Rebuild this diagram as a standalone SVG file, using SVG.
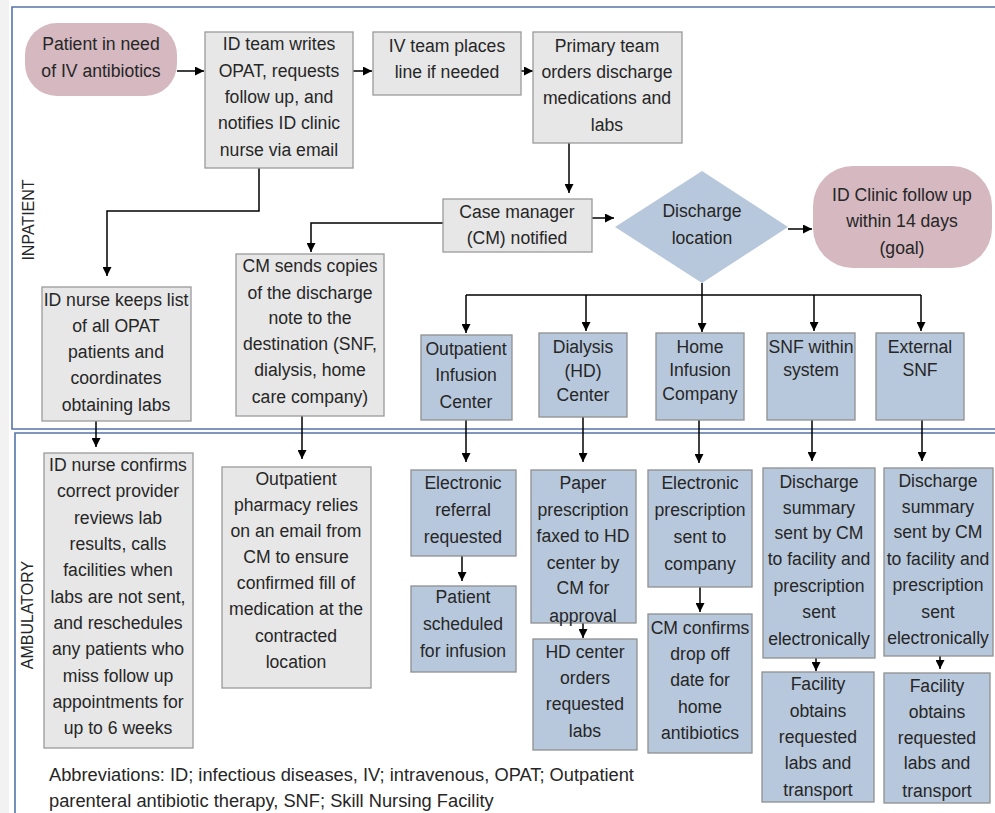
<svg xmlns="http://www.w3.org/2000/svg" width="995" height="813" viewBox="0 0 995 813">
<defs>
<marker id="ah" viewBox="0 0 10 10" markerUnits="userSpaceOnUse" markerWidth="9" markerHeight="9" refX="10" refY="5" orient="auto">
<path d="M0,0 L10,5 L0,10 z" fill="#000"/>
</marker>
<style>
text{font-family:"Liberation Sans",Arial,sans-serif;font-size:17.6px;fill:#262626;text-anchor:middle}
.lane{fill:none;stroke:#5575aa;stroke-width:1.6}
.g{fill:#e7e7e7;stroke:#9a9a9a;stroke-width:1.3}
.b{fill:#b8c8dc;stroke:#8f8f8f;stroke-width:1.3}
.p{fill:#d5b8c0;stroke:none}
.d{fill:#b8c8dc;stroke:none}
.lbl{font-size:16px}
.ab{text-anchor:start;font-size:18.3px}
#connectors path{fill:none;stroke:#000;stroke-width:1.5;marker-end:url(#ah)}
#connectors path.n{marker-end:none}
</style>
</defs>
<rect x="0" y="0" width="995" height="813" fill="#fff"/>
<rect x="0" y="0" width="9" height="813" fill="#f2f2f2"/>
<g id="lanes">
<path class="lane" d="M1000,7 H12 V429 H1000"/>
<path class="lane" d="M1000,433 H15 V820"/>
<text class="lbl" transform="translate(34,220) rotate(-90)">INPATIENT</text>
<text class="lbl" transform="translate(33,615) rotate(-90)">AMBULATORY</text>
</g>
<g id="connectors">
<path d="M177,71 H204"/>
<path d="M353,71 H372"/>
<path d="M521,71 H533"/>
<path d="M569,143 V193"/>
<path d="M592,218 H614"/>
<path d="M443,223 H311 V252"/>
<path d="M788,229 H812"/>
<path d="M259,168 V211 H107 V276"/>
<path d="M702,283 V332"/>
<path class="n" d="M466,295 H921"/>
<path d="M466,295 V333"/>
<path d="M586,295 V331"/>
<path d="M814,295 V331"/>
<path d="M921,295 V331"/>
<path d="M96,421 V447"/>
<path d="M302,416 V459"/>
<path d="M466,420 V462"/>
<path d="M583,417 V462"/>
<path d="M699,420 V463"/>
<path d="M812,420 V461"/>
<path d="M922,420 V461"/>
<path d="M462,556 V581"/>
<path d="M583,623 V638"/>
<path d="M700,587 V612"/>
<path d="M816,658 V671"/>
<path d="M940,656 V669"/>
</g>
<g id="patient"><rect class="p" x="25" y="23" width="152" height="73" rx="32"/><text x="101" y="50">Patient in need</text><text x="101" y="77">of IV antibiotics</text></g>
<g id="idteam"><rect class="g" x="205" y="32" width="148" height="136"/><text x="279" y="50">ID team writes</text><text x="279" y="77">OPAT, requests</text><text x="279" y="103">follow up, and</text><text x="279" y="129">notifies ID clinic</text><text x="279" y="156">nurse via email</text></g>
<g id="ivteam"><rect class="g" x="373" y="32" width="148" height="63"/><text x="447" y="52">IV team places</text><text x="447" y="78">line if needed</text></g>
<g id="primary"><rect class="g" x="533" y="32" width="149" height="111"/><text x="607" y="52">Primary team</text><text x="607" y="78">orders discharge</text><text x="607" y="104">medications and</text><text x="607" y="131">labs</text></g>
<g id="casemanager"><rect class="g" x="443" y="199" width="149" height="53"/><text x="517" y="218">Case manager</text><text x="517" y="244">(CM) notified</text></g>
<g id="discharge"><polygon class="d" points="615,227 702,171 788,227 702,283"/><text x="702" y="217">Discharge</text><text x="702" y="244">location</text></g>
<g id="idclinic"><rect class="p" x="813" y="166" width="179" height="102" rx="40"/><text x="902" y="201">ID Clinic follow up</text><text x="902" y="227">within 14 days</text><text x="902" y="254">(goal)</text></g>
<g id="nursekeeps"><rect class="g" x="42" y="287" width="149" height="134"/><text x="116" y="306">ID nurse keeps list</text><text x="116" y="332">of all OPAT</text><text x="116" y="358">patients and</text><text x="116" y="384">coordinates</text><text x="116" y="411">obtaining labs</text></g>
<g id="cmsends"><rect class="g" x="236" y="254" width="148" height="162"/><text x="310" y="272">CM sends copies</text><text x="310" y="299">of the discharge</text><text x="310" y="324">note to the</text><text x="310" y="350">destination (SNF,</text><text x="310" y="376">dialysis, home</text><text x="310" y="403">care company)</text></g>
<g id="outinfusion"><rect class="b" x="421" y="335" width="91" height="85"/><text x="466" y="355">Outpatient</text><text x="466" y="381">Infusion</text><text x="466" y="408">Center</text></g>
<g id="dialysis"><rect class="b" x="539" y="333" width="88" height="84"/><text x="583" y="353">Dialysis</text><text x="583" y="377">(HD)</text><text x="583" y="401">Center</text></g>
<g id="homeinfusion"><rect class="b" x="656" y="333" width="88" height="87"/><text x="700" y="353">Home</text><text x="700" y="376">Infusion</text><text x="700" y="400">Company</text></g>
<g id="snfwithin"><rect class="b" x="767" y="333" width="88" height="87"/><text x="811" y="353">SNF within</text><text x="811" y="376">system</text></g>
<g id="externalsnf"><rect class="b" x="876" y="333" width="88" height="87"/><text x="920" y="353">External</text><text x="920" y="376">SNF</text></g>
<g id="nurseconfirms"><rect class="g" x="44" y="453" width="149" height="295"/><text x="118" y="471">ID nurse confirms</text><text x="118" y="497">correct provider</text><text x="118" y="524">reviews lab</text><text x="118" y="550">results, calls</text><text x="118" y="576">facilities when</text><text x="118" y="603">labs are not sent,</text><text x="118" y="629">and reschedules</text><text x="118" y="655">any patients who</text><text x="118" y="682">miss follow up</text><text x="118" y="708">appointments for</text><text x="118" y="734">up to 6 weeks</text></g>
<g id="pharmacy"><rect class="g" x="222" y="467" width="149" height="221"/><text x="296" y="485">Outpatient</text><text x="296" y="511">pharmacy relies</text><text x="296" y="537">on an email from</text><text x="296" y="563">CM to ensure</text><text x="296" y="589">confirmed fill of</text><text x="296" y="615">medication at the</text><text x="296" y="642">contracted</text><text x="296" y="668">location</text></g>
<g id="referral"><rect class="b" x="411" y="470" width="105" height="86"/><text x="463" y="489">Electronic</text><text x="463" y="516">referral</text><text x="463" y="543">requested</text></g>
<g id="scheduled"><rect class="b" x="411" y="586" width="105" height="86"/><text x="463" y="603">Patient</text><text x="463" y="630">scheduled</text><text x="463" y="657">for infusion</text></g>
<g id="paper"><rect class="b" x="531" y="470" width="105" height="153"/><text x="583" y="489">Paper</text><text x="583" y="516">prescription</text><text x="583" y="542">faxed to HD</text><text x="583" y="569">center by</text><text x="583" y="594">CM for</text><text x="583" y="622">approval</text></g>
<g id="hdorders"><rect class="b" x="533" y="639" width="104" height="111"/><text x="585" y="658">HD center</text><text x="585" y="684">orders</text><text x="585" y="710">requested</text><text x="585" y="737">labs</text></g>
<g id="eprescription"><rect class="b" x="648" y="470" width="104" height="117"/><text x="700" y="489">Electronic</text><text x="700" y="516">prescription</text><text x="700" y="543">sent to</text><text x="700" y="570">company</text></g>
<g id="cmconfirms"><rect class="b" x="648" y="614" width="104" height="139"/><text x="700" y="634">CM confirms</text><text x="700" y="660">drop off</text><text x="700" y="686">date for</text><text x="700" y="713">home</text><text x="700" y="739">antibiotics</text></g>
<g id="summary1"><rect class="b" x="763" y="468" width="112" height="190"/><text x="819" y="488">Discharge</text><text x="819" y="514">summary</text><text x="819" y="539">sent by CM</text><text x="819" y="565">to facility and</text><text x="819" y="592">prescription</text><text x="819" y="618">sent</text><text x="819" y="645">electronically</text></g>
<g id="facility1"><rect class="b" x="762" y="672" width="112" height="130"/><text x="818" y="690">Facility</text><text x="818" y="717">obtains</text><text x="818" y="743">requested</text><text x="818" y="769">labs and</text><text x="818" y="796">transport</text></g>
<g id="summary2"><rect class="b" x="884" y="468" width="109" height="188"/><text x="938" y="487">Discharge</text><text x="938" y="513">summary</text><text x="938" y="538">sent by CM</text><text x="938" y="565">to facility and</text><text x="938" y="591">prescription</text><text x="938" y="618">sent</text><text x="938" y="644">electronically</text></g>
<g id="facility2"><rect class="b" x="884" y="673" width="106" height="130"/><text x="937" y="692">Facility</text><text x="937" y="718">obtains</text><text x="937" y="744">requested</text><text x="937" y="769">labs and</text><text x="937" y="797">transport</text></g>
<g id="abbrev"><text class="ab" x="49" y="781">Abbreviations: ID; infectious diseases, IV; intravenous, OPAT; Outpatient</text><text class="ab" x="49" y="807">parenteral antibiotic therapy, SNF; Skill Nursing Facility</text></g>
</svg>
